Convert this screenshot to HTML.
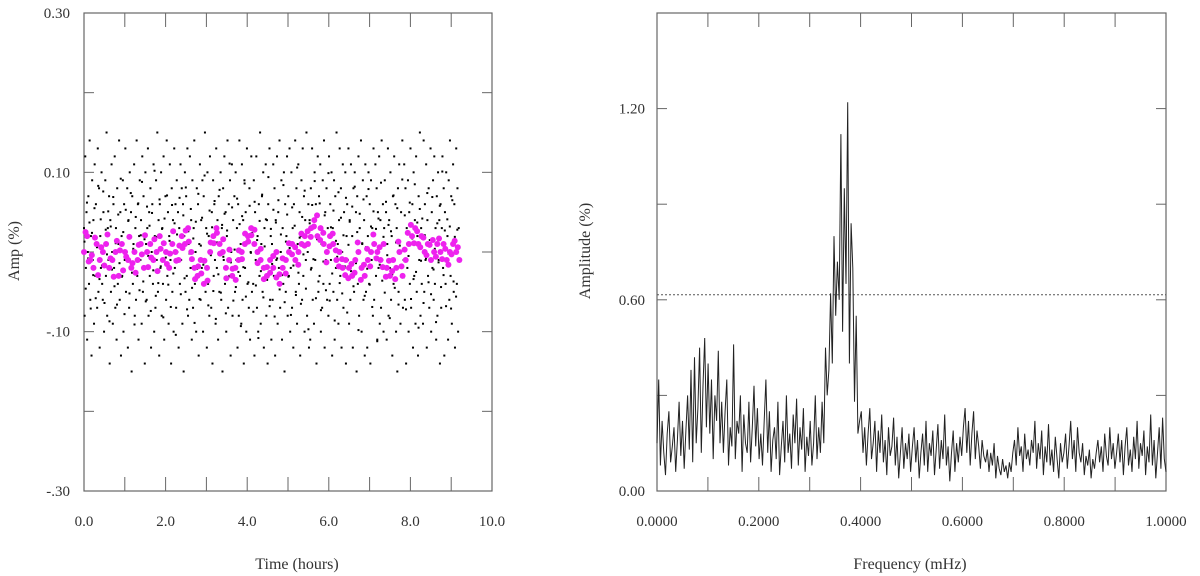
<!DOCTYPE html>
<html><head><meta charset="utf-8"><style>
html,body{margin:0;padding:0;background:#fff;}
svg{display:block;font-family:"Liberation Serif",serif;}
</style></head><body>
<svg id="chart" width="1200" height="576" viewBox="0 0 1200 576"></svg>
<script>
// ---- Left panel data (Amp in 0.01 % units) ----
const blackAmp = [
3,-8,12,-2,5,-11,0,7,-4,14,-6,2,-13,9,-1,4,-9,11,-3,6,1,-7,13,-5,8,-12,2,-2,10,-4,
-6,5,-10,1,9,-3,15,-8,3,-1,7,-14,4,-5,11,0,-9,6,-2,12,-7,3,-11,8,-4,1,14,-6,5,-13,
2,-3,9,-10,6,-1,13,-5,0,8,-12,4,-7,10,-2,5,-15,7,-4,1,11,-8,3,-6,14,-3,6,-11,2,9,
-1,4,-9,12,-5,7,-2,-14,10,1,-6,3,13,-8,5,-3,8,-12,0,6,-4,11,-10,2,-7,9,-1,15,-5,4,
-13,6,-2,10,-8,3,-4,12,-11,1,7,-6,14,-3,5,-9,2,11,-1,-14,8,-5,4,-10,13,-2,6,-7,9,0,
5,-12,3,-4,11,-1,8,-9,6,-15,2,10,-5,7,-3,13,-8,1,-6,12,-2,4,-11,9,-7,3,14,-4,0,-10,
8,-3,6,-13,1,11,-6,4,-2,9,-10,7,-1,15,-5,3,-12,10,-4,2,-8,12,0,-7,5,-14,9,-3,6,-1,
-9,13,-2,4,-11,7,-5,1,10,-6,3,-15,8,-1,12,-4,5,-10,2,14,-7,6,-3,9,-13,0,11,-8,4,-2,
7,-5,10,-1,3,-12,6,-8,14,-3,1,-9,11,-6,4,-14,9,-2,5,-10,13,-4,2,-7,8,-11,0,12,-5,3,
-4,9,-13,5,-1,12,-7,2,-10,6,-3,15,-9,1,7,-5,10,-12,3,-2,11,-8,4,-14,6,-1,13,-6,2,-11,
1,-6,11,-3,8,-13,4,-1,12,-9,5,-2,14,-7,0,9,-11,3,-4,10,-15,6,-5,2,12,-8,7,-3,13,-10,
-2,10,-7,3,-12,6,-1,14,-5,8,-9,1,11,-4,5,-13,2,9,-6,13,-3,7,-10,4,-1,15,-8,0,6,-12,
4,-11,8,-2,13,-6,3,-9,10,-1,6,-14,2,12,-5,7,-3,11,-10,1,-7,9,-4,14,-12,5,-1,8,-6,3,
-8,12,-4,6,-1,10,-13,3,-5,9,-11,7,-2,15,-6,1,-9,4,13,-3,8,-12,0,11,-7,5,-2,10,-14,2,
6,-1,13,-9,4,-6,11,-3,2,-12,8,-5,10,-1,5,-15,7,-4,12,-8,3,-2,14,-10,1,9,-6,4,-13,11,
-5,7,-12,2,10,-4,6,-14,9,-1,3,-8,13,-6,1,11,-3,8,-11,5,-2,12,-9,4,-7,14,-1,6,-10,3,
9,-3,5,-11,1,13,-8,4,-2,10,-6,2,-13,7,-4,12,-1,6,-10,3,-15,8,-5,11,0,-9,5,-3,14,-7,
-1,11,-6,8,-14,3,-2,9,-10,5,-4,13,-7,1,6,-12,10,-3,4,-9,12,-5,2,-13,7,-1,15,-8,3,-4,
2,-9,14,-5,6,-1,11,-12,4,-3,8,-7,1,13,-10,5,-2,9,-6,12,-4,3,-11,7,-8,10,-1,4,-14,6,
-7,3,12,-2,8,-13,5,-4,10,-1,2,-11,9,-6,14,-3,7,-9,1,11,-5,6,-12,0,13,-4,8,-10,3,-1
];
const blackAmp2 = [
1.3,-4.6,6.2,-0.8,3.7,-7.1,2.4,-2.9,5.5,-5.8,0.6,8.3,-3.4,4.1,-1.7,7.6,-6.4,2.8,-0.3,5.1,-8.7,3.2,-2.2,6.9,-4.3,1.1,-6.6,4.7,-1.4,9.2,
-3.1,2.5,-7.8,5.3,-0.9,3.9,-5.2,7.4,-2.6,0.4,-9.1,4.4,-1.2,6.1,-4.8,2.1,8.8,-3.7,1.6,-6.2,5.7,-0.5,3.3,-7.4,4.9,-2.3,10.2,-5.5,1.9,-3.9,
6.6,-1.8,2.9,-8.2,4.2,-0.7,7.1,-4.1,1.4,-6.9,5.9,-2.7,3.6,-10.4,2.2,-1.1,6.8,-5.3,0.9,4.6,-3.3,8.1,-7.2,2.6,-0.2,5.4,-4.5,1.7,-8.9,3.8,
-2.1,7.3,-5.9,0.8,4.3,-1.6,9.6,-3.6,2.3,-6.7,5.2,-0.4,3.1,-4.9,6.4,-8.4,1.2,-2.8,7.8,-5.1,3.4,-0.6,4.8,-7.7,2.7,-3.2,11.1,-1.3,5.6,-6.1,
0.3,-4.4,6.7,-2.5,3.5,-9.3,4.5,-1.9,8.6,-5.6,1.8,-3.8,5.8,-0.1,2.4,-7.5,6.3,-4.2,1.5,-10.8,3.9,-2.4,7.2,-5.7,0.7,4.1,-3.5,9.4,-6.8,2.9,
-1.5,5.3,-8.1,3.7,-0.8,6.5,-4.7,2.2,-2.9,8.4,-6.3,1.3,4.7,-3.1,0.5,-7.9,5.6,-1.7,3.3,-5.4,10.6,-2.6,1.8,-6.5,4.4,-0.3,7.7,-4.6,2.6,-9.7,
3.6,-2.2,5.9,-0.9,8.9,-5.8,1.6,-3.7,6.1,-7.3,2.8,-1.2,4.6,-4.8,0.2,9.9,-6.1,3.1,-2.7,5.2,-8.6,1.4,-0.6,7.5,-3.9,4.3,-5.2,2.1,-1.8,6.8,
-7.6,0.9,3.8,-2.4,5.7,-4.3,8.2,-1.4,2.5,-9.8,4.8,-3.3,1.1,6.6,-5.5,0.6,-2.1,7.9,-4.1,3.2,-6.9,5.1,-0.7,2.9,-11.2,4.2,-1.6,8.7,-3.6,1.9,
-5.1,6.3,-0.4,3.4,-8.3,2.6,-2.8,7.1,-4.5,1.2,5.5,-6.6,0.8,-1.9,9.1,-3.2,4.6,-7.2,2.3,-0.5,6.2,-5.9,1.7,-3.4,8.5,-2.5,3.7,-9.5,5.4,-1.1,
4.2,-6.4,2.1,-0.8,7.4,-3.8,1.5,-5.3,6.9,-2.2,0.4,-8.8,3.6,-1.3,5.8,-4.4,10.1,-2.9,2.7,-6.8,4.1,-0.2,3.2,-7.1,6.5,-3.7,1.9,-5.6,2.8,-0.9
];
const pinkAmp = [
0,2,-1,-2,1,-1,0,1,-2,-1,0,-3,1,0,-1,-2,
0,-1,1,-2,0,1,-1,0,2,-1,0,-2,1,0,-1,
2,1,3,0,-2,-3,-1,-4,-2,0,
2,3,1,0,-2,-1,-3,-2,-1,0,1,
2,3,1,0,-1,-2,-3,-1,-2,0,-4,
-2,-1,0,1,-1,0,1,2,1,3,4,2,3,
1,0,2,1,-1,0,-2,-1,
-2,-3,-1,0,-2,-3,-1,0,1,0,-1,1,
-2,-3,-1,-2,0,-3,-1,1,
2,3,1,2,0,1,-1,0,
1,0,1,-1,0,1,0,-1
];
const pinkAmp2 = [
2.5,-1.2,-0.4,1.8,-2.9,0.6,-1.7,2.2,-0.8,-3.1,1.4,0.2,-2.3,-0.6,1.9,-1.4,
-2.6,0.9,-0.3,2.1,-1.9,-0.7,1.6,-2.4,0.4,1.1,-1.5,-0.2,2.6,-1.1,0.8,
0.5,2.7,1.3,-0.9,-3.4,-1.8,-2.7,-1.1,-3.6,1.2,
1.1,2.4,-0.2,1.6,-3.3,0.3,-2.1,-3.5,0.2,-0.9,2.3,
1.3,2.1,2.8,-1.4,0.4,-3.4,-1.9,-2.6,-0.5,-3.2,-2.8,
-0.8,-2.7,1.1,-0.3,0.6,-1.6,2.3,0.8,2.6,1.9,3.2,4.6,1.5,
2.4,-1.3,0.7,2.3,0.2,-1.8,-0.9,-2.9,
-3.3,-1.5,-2.6,1.2,-3.5,-1.6,0.4,-1.8,2.2,-0.8,0.6,-1.9,
-3.1,-1.1,-2.4,-3.4,1.3,-1.8,0.3,2.4,
3.4,1.1,2.6,0.6,1.8,-0.4,0.9,1.5,
-0.6,1.7,-0.9,0.4,-1.6,-0.3,1.4,0.6
];
const timeSpan = [0, 9.2];
const leftXTicks = ["0.0","2.0","4.0","6.0","8.0","10.0"];
const leftYTicks = ["-.30","0.10","-.10","0.30"];
// ---- Right panel data (amplitude in 0.01 % units) ----
const specAmp = [
15,35,8,22,12,5,18,25,9,14,20,6,16,28,11,22,7,19,30,13,38,9,42,15,26,45,12,33,48,20,
40,18,35,10,30,22,44,15,28,12,25,35,8,20,14,46,10,22,18,30,6,24,15,12,28,9,20,33,14,26,
10,18,8,22,35,12,25,6,16,20,10,28,5,14,22,9,30,12,18,7,24,15,29,8,20,13,26,6,17,11,
22,8,15,30,10,20,12,28,15,45,30,38,62,40,80,55,72,60,112,50,95,65,122,40,84,70,28,55,18,22,
25,12,20,8,18,26,10,15,22,6,19,12,24,9,16,5,20,11,14,23,8,17,4,12,20,7,15,10,18,6,
14,20,9,16,4,12,18,8,22,6,15,11,19,5,13,21,7,16,10,24,8,14,3,12,19,6,15,9,17,11,
20,26,12,22,8,18,25,10,19,14,7,16,11,9,13,6,12,8,15,4,11,7,5,10,6,8,4,9,6,12,
16,8,20,11,14,6,18,10,13,8,16,12,22,7,15,10,19,5,14,9,21,8,13,6,17,10,4,15,9,12,
18,7,14,22,10,16,6,20,12,9,15,5,11,8,13,4,10,7,12,16,9,14,6,18,11,8,20,10,15,7,
12,18,9,16,5,14,20,8,13,6,17,10,22,7,15,11,19,5,14,9,24,8,16,4,12,20,7,23,10,6
];
const threshold = [0.616];
const rightXTicks = ["0.0000","0.2000","0.4000","0.6000","0.8000","1.0000"];
const rightYTicks = ["0.00","0.60","1.20"];

const NS="http://www.w3.org/2000/svg";
const svg=document.getElementById('chart');
function mk(tag,attrs,parent){const e=document.createElementNS(NS,tag);for(const k in attrs)e.setAttribute(k,attrs[k]);(parent||svg).appendChild(e);return e;}
const AX="#666";
const L={x0:84,x1:492,y0:13,y1:491};
const lx=t=>L.x0+(t-0)/(10-0)*(L.x1-L.x0);
const ly=v=>L.y1-(v+0.30)/0.60*(L.y1-L.y0);
const R={x0:657,x1:1166,y0:13,y1:491};
const rx=f=>R.x0+f*(R.x1-R.x0);
const ry=a=>R.y1-a/1.5*(R.y1-R.y0);

const lf=mk('rect',{x:L.x0,y:L.y0,width:L.x1-L.x0,height:L.y1-L.y0,fill:'none',stroke:AX,'stroke-width':1.2});


for(let t=1;t<10;t++){
 const a=mk('line',{x1:lx(t),x2:lx(t),y1:L.y1,y2:L.y1-14,stroke:AX});
 
 const b=mk('line',{x1:lx(t),x2:lx(t),y1:L.y0,y2:L.y0+14,stroke:AX});
 
}
for(let k=-2;k<=2;k++){
 const v=k*0.1;
 const a=mk('line',{x1:L.x0,x2:L.x0+10,y1:ly(v),y2:ly(v),stroke:AX});
 
 const b=mk('line',{x1:L.x1,x2:L.x1-10,y1:ly(v),y2:ly(v),stroke:AX});
 
}
leftXTicks.forEach((s,i)=>{
 const t=mk('text',{x:lx(i*2),y:526,'text-anchor':'middle','font-size':15,fill:'#333'});
 t.textContent=s;
 
});
[-0.30,0.10,-0.10,0.30].forEach((v,i)=>{
 const t=mk('text',{x:70,y:ly(v)+5,'text-anchor':'end','font-size':15,fill:'#333'});
 t.textContent=leftYTicks[i];
 
});
let tt=mk('text',{x:297,y:569,'text-anchor':'middle','font-size':16,fill:'#333'});tt.textContent='Time (hours)';

tt=mk('text',{x:0,y:0,'text-anchor':'middle','font-size':16,fill:'#333',transform:'translate(19,251) rotate(-90)'});tt.textContent='Amp (%)';


const gb=mk('g',{fill:'#000'});

blackAmp.forEach((v,i)=>{
 const t=timeSpan[0]+i*(timeSpan[1]-timeSpan[0])/(blackAmp.length-1);
 const d=mk('rect',{x:lx(t)-1,y:ly(v/100)-1,width:2,height:2},gb);
 
});
blackAmp2.forEach((v,i)=>{
 const t=timeSpan[0]+(i+0.37)*(timeSpan[1]-timeSpan[0])/blackAmp2.length;
 const d=mk('rect',{x:lx(t)-1,y:ly(v/100)-1,width:2,height:2},gb);
 
});
const gp=mk('g',{fill:'#ee22ee'});

pinkAmp.forEach((v,i)=>{
 const t=timeSpan[0]+i*(timeSpan[1]-timeSpan[0])/(pinkAmp.length-1);
 const d=mk('circle',{cx:lx(t),cy:ly(v/100),r:3},gp);
 
});
pinkAmp2.forEach((v,i)=>{
 const t=timeSpan[0]+(i+0.5)*(timeSpan[1]-timeSpan[0])/pinkAmp2.length;
 const d=mk('circle',{cx:lx(t),cy:ly(v/100),r:3},gp);
 
});

const rf=mk('rect',{x:R.x0,y:R.y0,width:R.x1-R.x0,height:R.y1-R.y0,fill:'none',stroke:AX,'stroke-width':1.2});

for(let k=1;k<10;k++){
 const a=mk('line',{x1:rx(k/10),x2:rx(k/10),y1:R.y1,y2:R.y1-14,stroke:AX});
 
 const b=mk('line',{x1:rx(k/10),x2:rx(k/10),y1:R.y0,y2:R.y0+14,stroke:AX});
 
}
for(let k=1;k<5;k++){
 const a=mk('line',{x1:R.x0,x2:R.x0+10,y1:ry(k*0.3),y2:ry(k*0.3),stroke:AX});
 
 const b=mk('line',{x1:R.x1,x2:R.x1-10,y1:ry(k*0.3),y2:ry(k*0.3),stroke:AX});
 
}
rightXTicks.forEach((s,i)=>{
 const t=mk('text',{x:rx(i*0.2),y:526,'text-anchor':'middle','font-size':15,fill:'#333'});
 t.textContent=s;
 
});
rightYTicks.forEach((s,i)=>{
 const t=mk('text',{x:645,y:ry(i*0.6)+5,'text-anchor':'end','font-size':15,fill:'#333'});
 t.textContent=s;
 
});
tt=mk('text',{x:910,y:569,'text-anchor':'middle','font-size':16,fill:'#333'});tt.textContent='Frequency (mHz)';

tt=mk('text',{x:0,y:0,'text-anchor':'middle','font-size':16,fill:'#333',transform:'translate(590,251) rotate(-90)'});tt.textContent='Amplitude (%)';


const th=mk('line',{x1:R.x0,x2:R.x1,y1:ry(threshold[0]),y2:ry(threshold[0]),stroke:'#555','stroke-dasharray':'2,2'});


let pts=specAmp.map((v,i)=>rx(i/(specAmp.length-1)).toFixed(1)+','+ry(v/100).toFixed(1)).join(' ');
const sp=mk('polyline',{points:pts,fill:'none',stroke:'#222','stroke-width':1});

</script>
</body></html>
